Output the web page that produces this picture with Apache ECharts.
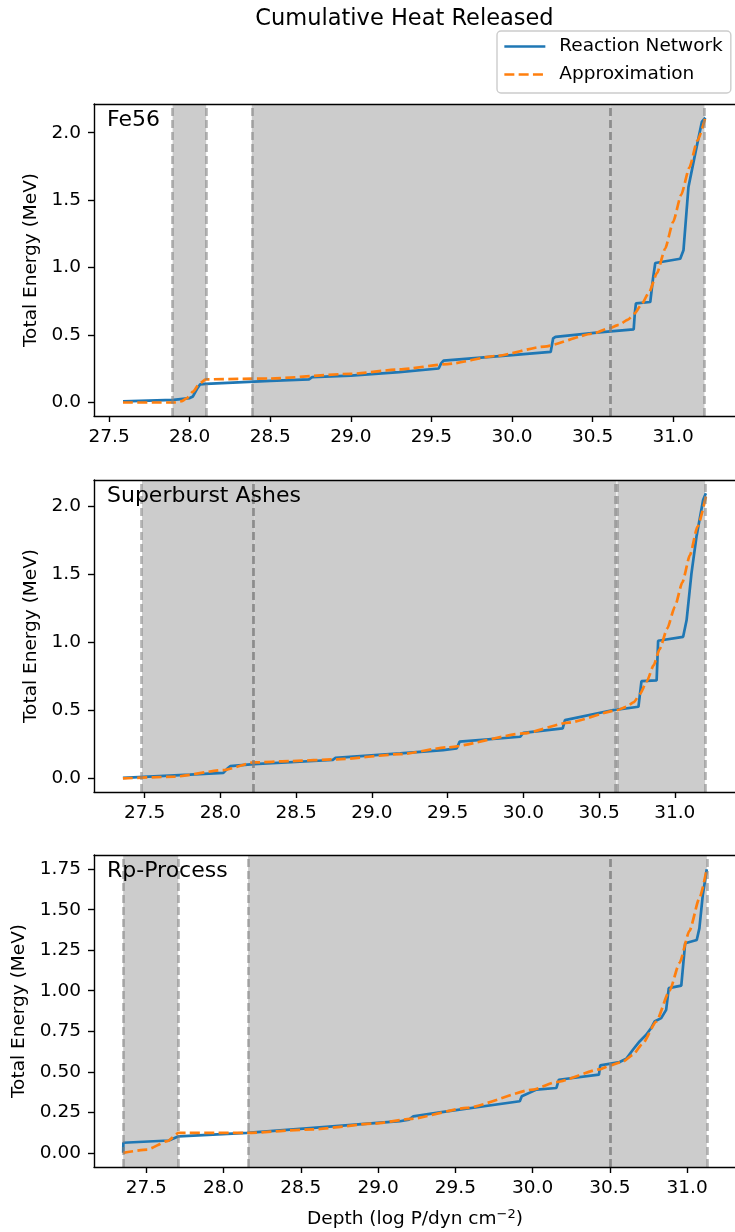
<!DOCTYPE html>
<html>
<head>
<meta charset="utf-8">
<title>Cumulative Heat Released</title>
<script src="https://cdn.jsdelivr.net/npm/echarts@6/dist/echarts.min.js"></script>
<style>
  html, body { margin: 0; padding: 0; background: #fff; }
  #chart { width: 735px; height: 1232px; }
</style>
</head>
<body>
<div id="chart"></div>
<script>
// ---- tick labels ----
const depthTicks = [27.5, 28.0, 28.5, 29.0, 29.5, 30.0, 30.5, 31.0];
const energyTicks = [0.0, 0.5, 1.0, 1.5, 2.0];
const energyTicksRp = [0.0, 0.25, 0.5, 0.75, 1.0, 1.25, 1.5, 1.75];

const panelNames = ['Fe56', 'Superburst Ashes', 'Rp-Process'];
const seriesNames = ['Reaction Network', 'Approximation'];

// ---- Fe56: [depth, total energy MeV] ----
const fe56Network = [
  [27.586, 0.008], [27.9, 0.02], [28.0, 0.033], [28.02, 0.045], [28.05, 0.11],
  [28.065, 0.135], [28.1, 0.138], [28.5, 0.16], [28.74, 0.172], [28.76, 0.188],
  [29.0, 0.2], [29.3, 0.225], [29.545, 0.252], [29.56, 0.29], [29.575, 0.31],
  [30.0, 0.352], [30.24, 0.375], [30.255, 0.475], [30.27, 0.487], [30.54, 0.52],
  [30.755, 0.542], [30.762, 0.66], [30.769, 0.735], [30.858, 0.745], [30.875, 0.92],
  [30.889, 1.034], [31.044, 1.066], [31.064, 1.128], [31.095, 1.598], [31.137, 1.845],
  [31.178, 2.08], [31.2, 2.112]
];
const fe56Approx = [
  [27.586, 0.0], [27.9, 0.0], [27.95, 0.01], [27.98, 0.03], [28.02, 0.08],
  [28.06, 0.14], [28.1, 0.172], [28.5, 0.178], [29.0, 0.213], [29.3, 0.245],
  [29.6, 0.285], [29.9, 0.345], [30.2, 0.415], [30.5, 0.51], [30.6, 0.55],
  [30.662, 0.575], [30.72, 0.615], [30.76, 0.66], [30.8, 0.72], [30.85, 0.815],
  [30.9, 0.96], [30.95, 1.14], [31.0, 1.34], [31.05, 1.54], [31.1, 1.74],
  [31.15, 1.94], [31.2, 2.112]
];
const fe56Bands = [[27.894, 28.102], [28.385, 30.613], [30.613, 31.194]];

// ---- Superburst ashes ----
const ashesNetwork = [
  [27.357, 0.004], [27.8, 0.027], [28.02, 0.04], [28.045, 0.07], [28.065, 0.09],
  [28.22, 0.105], [28.74, 0.135], [28.76, 0.15], [29.187, 0.184], [29.47, 0.208],
  [29.56, 0.22], [29.58, 0.27], [29.98, 0.306], [30.0, 0.335], [30.26, 0.367],
  [30.275, 0.428], [30.594, 0.502], [30.76, 0.526], [30.78, 0.715], [30.88, 0.72],
  [30.89, 1.011], [31.055, 1.04], [31.078, 1.163], [31.11, 1.506], [31.143, 1.775],
  [31.187, 2.045], [31.205, 2.094]
];
const ashesApprox = [
  [27.357, 0.0], [27.69, 0.012], [28.02, 0.061], [28.22, 0.117], [28.46, 0.127],
  [28.77, 0.14], [29.187, 0.178], [29.5, 0.228], [30.0, 0.33], [30.3, 0.41],
  [30.616, 0.5], [30.68, 0.525], [30.73, 0.56], [30.77, 0.62], [30.814, 0.71],
  [30.86, 0.83], [30.9, 0.95], [30.95, 1.1], [31.0, 1.26], [31.05, 1.44],
  [31.1, 1.64], [31.15, 1.85], [31.21, 2.094]
];
const ashesBands = [[27.483, 28.224], [28.224, 30.614], [30.622, 31.2]];

// ---- Rp-process ashes ----
const rpNetwork = [
  [27.351, 0.0], [27.352, 0.062], [27.646, 0.076], [27.71, 0.102], [28.152, 0.123],
  [28.58, 0.154], [29.142, 0.195], [29.2, 0.205], [29.228, 0.225], [29.4, 0.25],
  [29.917, 0.318], [29.93, 0.349], [30.025, 0.39], [30.154, 0.4], [30.17, 0.451],
  [30.429, 0.482], [30.438, 0.54], [30.563, 0.56], [30.606, 0.58], [30.649, 0.636],
  [30.692, 0.687], [30.735, 0.728], [30.767, 0.77], [30.789, 0.81], [30.832, 0.831],
  [30.864, 0.882], [30.881, 1.016], [30.962, 1.032], [30.987, 1.293], [31.062, 1.313],
  [31.079, 1.385], [31.101, 1.59], [31.127, 1.75]
];
const rpApprox = [
  [27.351, 0.0], [27.506, 0.02], [27.636, 0.072], [27.71, 0.123], [28.152, 0.123],
  [28.58, 0.145], [28.97, 0.18], [29.207, 0.209], [29.573, 0.277], [30.003, 0.39],
  [30.154, 0.437], [30.434, 0.515], [30.5, 0.538], [30.584, 0.563], [30.649, 0.605],
  [30.713, 0.675], [30.8, 0.81], [30.886, 1.0], [30.95, 1.17], [31.015, 1.37],
  [31.079, 1.57], [31.127, 1.75]
];
const rpBands = [[27.351, 27.707], [28.159, 30.5], [30.5, 31.127]];

// ---- axis ranges ----
const depthRanges = [[27.406, 31.39], [27.166, 31.404], [27.162, 31.316]];
const energyRanges = [[-0.1, 2.213], [-0.1, 2.192], [-0.0875, 1.8375]];

const FONT = 'DejaVu Sans';
const panels = [
  { name: panelNames[0], network: fe56Network, approx: fe56Approx, bands: fe56Bands, ticks: energyTicks, digits: 1, top: 104, nameGap: 50 },
  { name: panelNames[1], network: ashesNetwork, approx: ashesApprox, bands: ashesBands, ticks: energyTicks, digits: 1, top: 480, nameGap: 50 },
  { name: panelNames[2], network: rpNetwork, approx: rpApprox, bands: rpBands, ticks: energyTicksRp, digits: 2, top: 855, nameGap: 63 }
];

const GRID_LEFT = 94, GRID_W = 642, GRID_H = 312;
const black = '#000';
const grids = [], xAxes = [], yAxes = [], series = [], graphics = [];

panels.forEach((p, i) => {
  grids.push({ left: GRID_LEFT, top: p.top, width: GRID_W, height: GRID_H, outerBoundsMode: 'none', containLabel: false });
  const [xmin, xmax] = depthRanges[i];
  const [ymin, ymax] = energyRanges[i];
  const last = i === panels.length - 1;
  xAxes.push({
    gridIndex: i, type: 'value', min: xmin, max: xmax, position: 'bottom', z: 6,
    axisLine: { show: true, onZero: false, lineStyle: { color: black, width: 1.4 } },
    axisTick: { show: true, length: 6, customValues: depthTicks, lineStyle: { color: black, width: 1.4 } },
    axisLabel: { customValues: depthTicks, formatter: v => v.toFixed(1), margin: 12, color: black, fontSize: 18.5, fontFamily: FONT },
    splitLine: { show: false },
    name: last ? '{a|Depth (log P/dyn cm}{s|\u22122}{a|)}' : '',
    nameLocation: 'middle', nameGap: 41,
    nameTextStyle: {
      rich: {
        a: { fontSize: 18.5, fontFamily: FONT, color: black, lineHeight: 22 },
        s: { fontSize: 13, fontFamily: FONT, color: black, verticalAlign: 'top', lineHeight: 14 }
      }
    }
  });
  xAxes.push({
    gridIndex: i, type: 'value', min: xmin, max: xmax, position: 'top', z: 6,
    axisLine: { show: true, onZero: false, lineStyle: { color: black, width: 1.4 } },
    axisTick: { show: false }, axisLabel: { show: false }, splitLine: { show: false }
  });
  yAxes.push({
    gridIndex: i, type: 'value', min: ymin, max: ymax, position: 'left', z: 6,
    axisLine: { show: true, onZero: false, lineStyle: { color: black, width: 1.4 } },
    axisTick: { show: true, length: 6, customValues: p.ticks, lineStyle: { color: black, width: 1.4 } },
    axisLabel: { customValues: p.ticks, formatter: v => v.toFixed(p.digits), margin: 13, color: black, fontSize: 18.5, fontFamily: FONT },
    splitLine: { show: false },
    name: 'Total Energy (MeV)', nameLocation: 'middle', nameGap: p.nameGap,
    nameTextStyle: { fontSize: 18.5, fontFamily: FONT, color: black }
  });

  // shaded depth bands with dashed edges
  const edges = [];
  p.bands.forEach(b => { edges.push({ xAxis: b[0] }); edges.push({ xAxis: b[1] }); });
  series.push({
    name: 'bands-' + i, type: 'line', xAxisIndex: 2 * i, yAxisIndex: i, data: [], z: 1,
    silent: true, symbol: 'none',
    markArea: {
      silent: true,
      itemStyle: { color: '#cccccc', opacity: 1 },
      data: p.bands.map(b => [{ xAxis: b[0] }, { xAxis: b[1] }])
    },
    markLine: {
      silent: true, symbol: ['none', 'none'], label: { show: false },
      lineStyle: { color: 'rgba(128,128,128,0.6)', width: 2.6, type: [8, 4] },
      emphasis: { disabled: true },
      data: edges
    }
  });
  series.push({
    name: seriesNames[0], type: 'line', xAxisIndex: 2 * i, yAxisIndex: i, z: 3,
    data: p.network, symbol: 'none', showSymbol: false,
    lineStyle: { color: '#1f77b4', width: 2.7 }, itemStyle: { color: '#1f77b4' }
  });
  series.push({
    name: seriesNames[1], type: 'line', xAxisIndex: 2 * i, yAxisIndex: i, z: 4,
    data: p.approx, symbol: 'none', showSymbol: false, smooth: 0.2, smoothMonotone: 'x',
    lineStyle: { color: '#ff7f0e', width: 2.7, type: [10, 4.3] }, itemStyle: { color: '#ff7f0e' }
  });

  graphics.push({
    type: 'text', x: 107, y: p.top + 16.5, z: 10,
    style: { text: p.name, font: '22px "' + FONT + '"', fill: black, align: 'left', verticalAlign: 'middle' }
  });
});

graphics.push({
  type: 'text', x: 404.5, y: 19, z: 10,
  style: { text: 'Cumulative Heat Released', font: '22.5px "' + FONT + '"', fill: black, align: 'center', verticalAlign: 'middle' }
});

const chart = echarts.init(document.getElementById('chart'), null, { renderer: 'canvas' });
chart.setOption({
  animation: false,
  backgroundColor: '#fff',
  grid: grids,
  xAxis: xAxes,
  yAxis: yAxes,
  legend: {
    data: seriesNames,
    orient: 'vertical', left: 497, top: 31,
    padding: [6, 8, 9, 6], itemGap: 9, itemWidth: 41, itemHeight: 18,
    backgroundColor: '#fff', borderColor: '#cccccc', borderWidth: 1.4, borderRadius: 4,
    itemStyle: { opacity: 0 },
    lineStyle: { width: 2.7 },
    textStyle: { fontSize: 18.5, fontFamily: FONT, color: black, padding: [0, 0, 0, 9], lineHeight: 18 },
    selectedMode: false
  },
  graphic: graphics,
  series: series
});
</script>
</body>
</html>
